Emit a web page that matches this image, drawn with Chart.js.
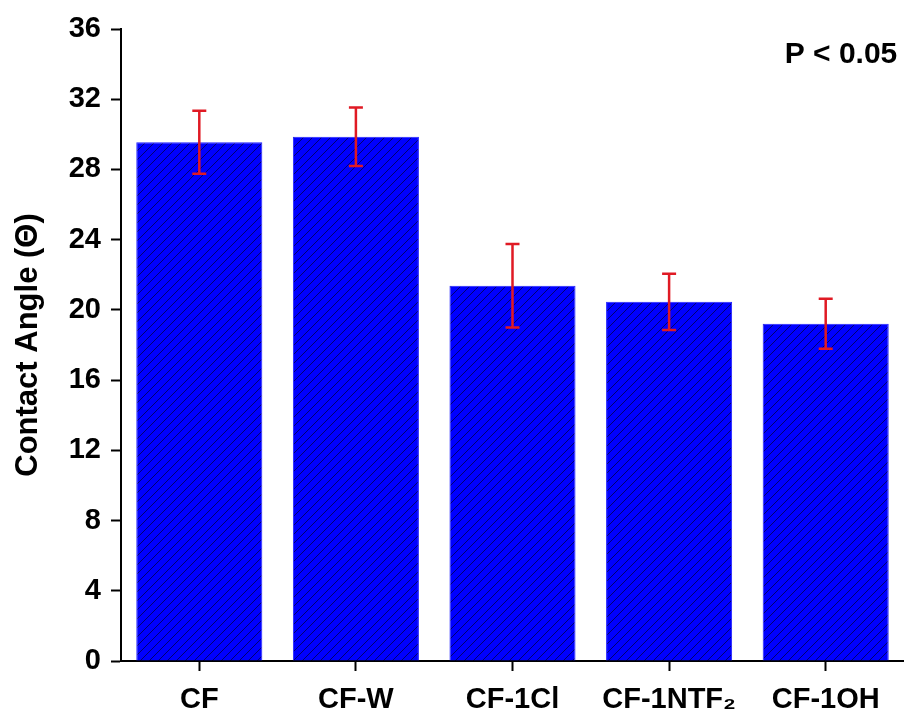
<!DOCTYPE html>
<html>
<head>
<meta charset="utf-8">
<script src="https://cdn.jsdelivr.net/npm/chart.js@4"></script>
<style>
  html, body { margin: 0; padding: 0; background: #fff; }
  #wrap { width: 904px; height: 713px; }
</style>
</head>
<body>
<div id="wrap"><canvas id="chart" width="904" height="713"></canvas></div>
<script>
const categories = ["CF", "CF-W", "CF-1Cl", "CF-1NTF\u2082", "CF-1OH"];
const contactAngle = [29.55, 29.86, 21.37, 20.46, 19.21];
const errorValues = [1.8, 1.67, 2.38, 1.6, 1.43];
const yTicks = [0, 4, 8, 12, 16, 20, 24, 28, 32, 36];
const noteText = "P < 0.05";

const FONT = "'Liberation Sans', Arial, sans-serif";

// hatch fill: blue with dark diagonal lines
function makeHatch() {
  const s = 9;
  const c = document.createElement("canvas");
  c.width = s; c.height = s;
  const g = c.getContext("2d");
  g.fillStyle = "#0000ff";
  g.fillRect(0, 0, s, s);
  g.strokeStyle = "#000070";
  g.lineWidth = 1;
  g.beginPath();
  g.moveTo(-1, s + 1); g.lineTo(s + 1, -1);
  g.moveTo(-1, 1); g.lineTo(1, -1);
  g.moveTo(s - 1, s + 1); g.lineTo(s + 1, s - 1);
  g.stroke();
  return g.createPattern(c, "repeat");
}

const errorBars = {
  id: "errorBars",
  afterDatasetsDraw(chart) {
    const { ctx, scales: { x, y } } = chart;
    ctx.save();
    ctx.strokeStyle = "#e01a24";
    ctx.lineWidth = 2.5;
    contactAngle.forEach((v, i) => {
      const cx = x.getPixelForValue(i);
      const top = y.getPixelForValue(v + errorValues[i]);
      const bot = y.getPixelForValue(v - errorValues[i]);
      ctx.beginPath();
      ctx.moveTo(cx, top); ctx.lineTo(cx, bot);
      ctx.moveTo(cx - 7, top); ctx.lineTo(cx + 7, top);
      ctx.moveTo(cx - 7, bot); ctx.lineTo(cx + 7, bot);
      ctx.stroke();
    });
    ctx.restore();
  }
};

const noteLabel = {
  id: "noteLabel",
  afterDraw(chart) {
    const { ctx } = chart;
    ctx.save();
    ctx.font = "bold 30px " + FONT;
    ctx.fillStyle = "#000";
    ctx.textAlign = "center";
    ctx.textBaseline = "middle";
    ctx.fillText(noteText, 841, 55);
    ctx.restore();
  }
};

new Chart(document.getElementById("chart"), {
  type: "bar",
  data: {
    labels: categories,
    datasets: [{
      data: contactAngle,
      backgroundColor: makeHatch(),
      borderColor: "#2020ff",
      borderWidth: 1,
      categoryPercentage: 1,
      barPercentage: 0.805
    }]
  },
  options: {
    responsive: false,
    animation: false,
    layout: { padding: { top: 29, right: 0, left: 0, bottom: 0 } },
    plugins: { legend: { display: false }, tooltip: { enabled: false } },
    scales: {
      x: {
        grid: { display: true, offset: false, drawOnChartArea: false, drawTicks: true, tickLength: 10, tickWidth: 2, tickColor: "#000" },
        border: { color: "#000", width: 2 },
        ticks: { color: "#000", font: { family: FONT, size: 29, weight: "bold" }, padding: 12, maxRotation: 0, autoSkip: false },
        afterFit: s => { s.height = 52; }
      },
      y: {
        min: 0,
        max: 36,
        afterBuildTicks: s => { s.ticks = yTicks.map(v => ({ value: v })); },
        grid: { display: true, drawOnChartArea: false, drawTicks: true, tickLength: 10, tickWidth: 2, tickColor: "#000" },
        border: { color: "#000", width: 2 },
        ticks: { color: "#000", font: { family: FONT, size: 29, weight: "bold" }, padding: 10 },
        title: { display: true, text: "Contact Angle (\u0398)", color: "#000", font: { family: FONT, size: 31, weight: "bold" }, padding: { top: 10, bottom: 0 } },
        afterFit: s => { s.width = 121; }
      }
    }
  },
  plugins: [errorBars, noteLabel]
});
</script>
</body>
</html>
